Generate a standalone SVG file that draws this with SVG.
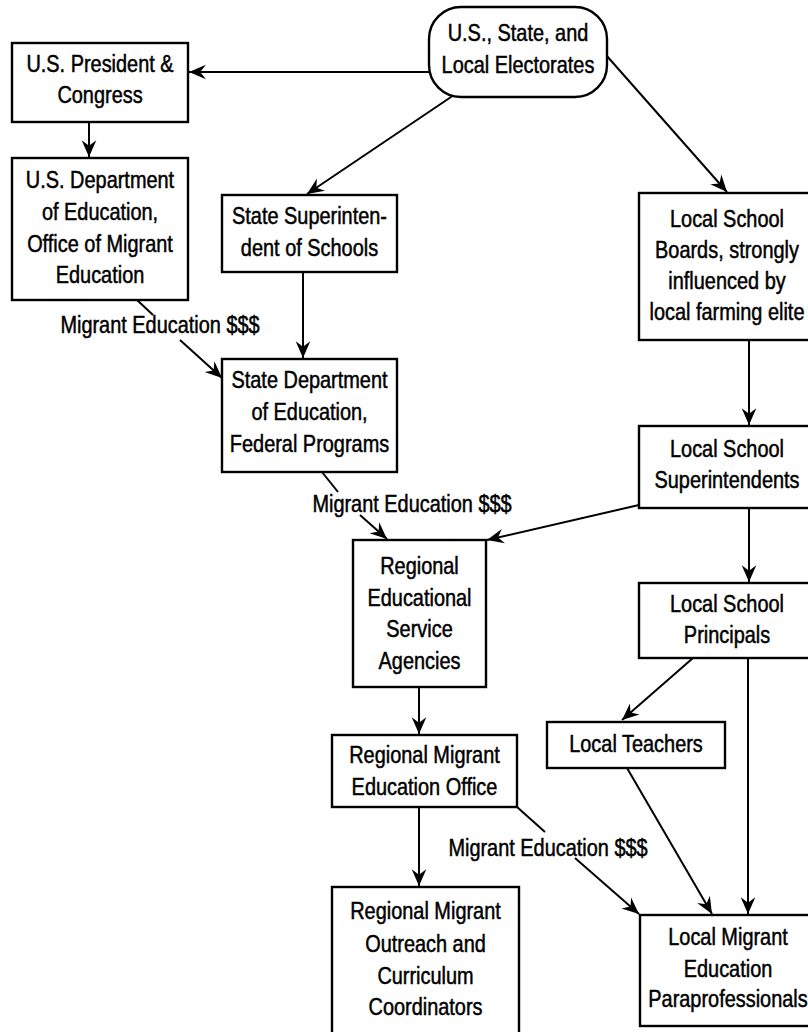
<svg xmlns="http://www.w3.org/2000/svg" width="808" height="1032" viewBox="0 0 808 1032">
<style>
.box{fill:#fff;stroke:#000;stroke-width:2.4}
.t{font-family:"Liberation Sans",Arial,sans-serif;font-size:24px;fill:#000;stroke:#000;stroke-width:0.5;text-anchor:middle}
.c{stroke:#000;stroke-width:2;fill:none}
</style>
<defs>
<marker id="ah" markerUnits="userSpaceOnUse" markerWidth="18" markerHeight="18" viewBox="-15 -8 16 16" refX="0" refY="0" orient="auto">
<path d="M0,0 L-15,-6.5 L-10,0 L-15,6.5 Z" fill="#000"/>
</marker>
</defs>
<rect width="808" height="1032" fill="#fff"/>
<g id="connectors">
<line class="c" x1="429" y1="72" x2="189" y2="72" marker-end="url(#ah)"/>
<line class="c" x1="454" y1="95" x2="307" y2="194" marker-end="url(#ah)"/>
<line class="c" x1="606" y1="55" x2="727" y2="192" marker-end="url(#ah)"/>
<line class="c" x1="89" y1="122" x2="89" y2="157" marker-end="url(#ah)"/>
<line class="c" x1="137" y1="300" x2="153" y2="315"/>
<line class="c" x1="180" y1="340" x2="222" y2="378" marker-end="url(#ah)"/>
<line class="c" x1="303" y1="272" x2="303" y2="358" marker-end="url(#ah)"/>
<line class="c" x1="322" y1="472" x2="338" y2="492"/>
<line class="c" x1="360" y1="515" x2="387" y2="539" marker-end="url(#ah)"/>
<line class="c" x1="749" y1="340" x2="749" y2="425" marker-end="url(#ah)"/>
<line class="c" x1="639" y1="505" x2="487" y2="540" marker-end="url(#ah)"/>
<line class="c" x1="749" y1="508" x2="749" y2="582" marker-end="url(#ah)"/>
<line class="c" x1="419" y1="687" x2="419" y2="734" marker-end="url(#ah)"/>
<line class="c" x1="419" y1="807" x2="419" y2="886" marker-end="url(#ah)"/>
<line class="c" x1="517" y1="807" x2="545" y2="832"/>
<line class="c" x1="575" y1="858" x2="639" y2="914" marker-end="url(#ah)"/>
<line class="c" x1="693" y1="658" x2="622" y2="720" marker-end="url(#ah)"/>
<line class="c" x1="627" y1="768" x2="712" y2="914" marker-end="url(#ah)"/>
<line class="c" x1="748" y1="658" x2="748" y2="914" marker-end="url(#ah)"/>
<text class="t" transform="translate(160 0) scale(0.83 1)" x="0" y="333">Migrant Education $$$</text>
<text class="t" transform="translate(412 0) scale(0.83 1)" x="0" y="512">Migrant Education $$$</text>
<text class="t" transform="translate(548 0) scale(0.83 1)" x="0" y="856">Migrant Education $$$</text>
</g>
<g id="electorates">
<rect class="box" x="429" y="7" width="178" height="90" rx="32" ry="32"/>
<text class="t" transform="translate(518 0) scale(0.83 1)"><tspan x="0" y="41">U.S., State, and</tspan><tspan x="0" y="73">Local Electorates</tspan></text>
</g>
<g id="president">
<rect class="box" x="12" y="43" width="176" height="79"/>
<text class="t" transform="translate(100 0) scale(0.83 1)"><tspan x="0" y="72">U.S. President &amp;</tspan><tspan x="0" y="103">Congress</tspan></text>
</g>
<g id="usdept">
<rect class="box" x="12" y="158" width="176" height="142"/>
<text class="t" transform="translate(100 0) scale(0.83 1)"><tspan x="0" y="188">U.S. Department</tspan><tspan x="0" y="220">of Education,</tspan><tspan x="0" y="252">Office of Migrant</tspan><tspan x="0" y="283">Education</tspan></text>
</g>
<g id="statesup">
<rect class="box" x="222" y="195" width="175" height="77"/>
<text class="t" transform="translate(309.5 0) scale(0.83 1)"><tspan x="0" y="224">State Superinten-</tspan><tspan x="0" y="256">dent of Schools</tspan></text>
</g>
<g id="statedept">
<rect class="box" x="222" y="359" width="175" height="113"/>
<text class="t" transform="translate(309.5 0) scale(0.83 1)"><tspan x="0" y="388">State Department</tspan><tspan x="0" y="420">of Education,</tspan><tspan x="0" y="452">Federal Programs</tspan></text>
</g>
<g id="boards">
<rect class="box" x="639" y="193" width="176" height="147"/>
<text class="t" transform="translate(727 0) scale(0.83 1)"><tspan x="0" y="227">Local School</tspan><tspan x="0" y="258">Boards, strongly</tspan><tspan x="0" y="289">influenced by</tspan><tspan x="0" y="320">local farming elite</tspan></text>
</g>
<g id="localsup">
<rect class="box" x="639" y="426" width="176" height="82"/>
<text class="t" transform="translate(727 0) scale(0.83 1)"><tspan x="0" y="457">Local School</tspan><tspan x="0" y="488">Superintendents</tspan></text>
</g>
<g id="principals">
<rect class="box" x="639" y="583" width="176" height="75"/>
<text class="t" transform="translate(727 0) scale(0.83 1)"><tspan x="0" y="612">Local School</tspan><tspan x="0" y="643">Principals</tspan></text>
</g>
<g id="regionalagencies">
<rect class="box" x="353" y="540" width="133" height="147"/>
<text class="t" transform="translate(419.5 0) scale(0.83 1)"><tspan x="0" y="574">Regional</tspan><tspan x="0" y="606">Educational</tspan><tspan x="0" y="637">Service</tspan><tspan x="0" y="669">Agencies</tspan></text>
</g>
<g id="regionaloffice">
<rect class="box" x="332" y="735" width="185" height="72"/>
<text class="t" transform="translate(424.5 0) scale(0.83 1)"><tspan x="0" y="763">Regional Migrant</tspan><tspan x="0" y="795">Education Office</tspan></text>
</g>
<g id="outreach">
<rect class="box" x="332" y="887" width="187" height="160"/>
<text class="t" transform="translate(425.5 0) scale(0.83 1)"><tspan x="0" y="919">Regional Migrant</tspan><tspan x="0" y="952">Outreach and</tspan><tspan x="0" y="984">Curriculum</tspan><tspan x="0" y="1015">Coordinators</tspan></text>
</g>
<g id="teachers">
<rect class="box" x="547" y="722" width="178" height="46"/>
<text class="t" transform="translate(636 0) scale(0.83 1)" x="0" y="752">Local Teachers</text>
</g>
<g id="paraprofessionals">
<rect class="box" x="640" y="915" width="176" height="111"/>
<text class="t" transform="translate(728 0) scale(0.83 1)"><tspan x="0" y="945">Local Migrant</tspan><tspan x="0" y="977">Education</tspan><tspan x="0" y="1007">Paraprofessionals</tspan></text>
</g>
</svg>
